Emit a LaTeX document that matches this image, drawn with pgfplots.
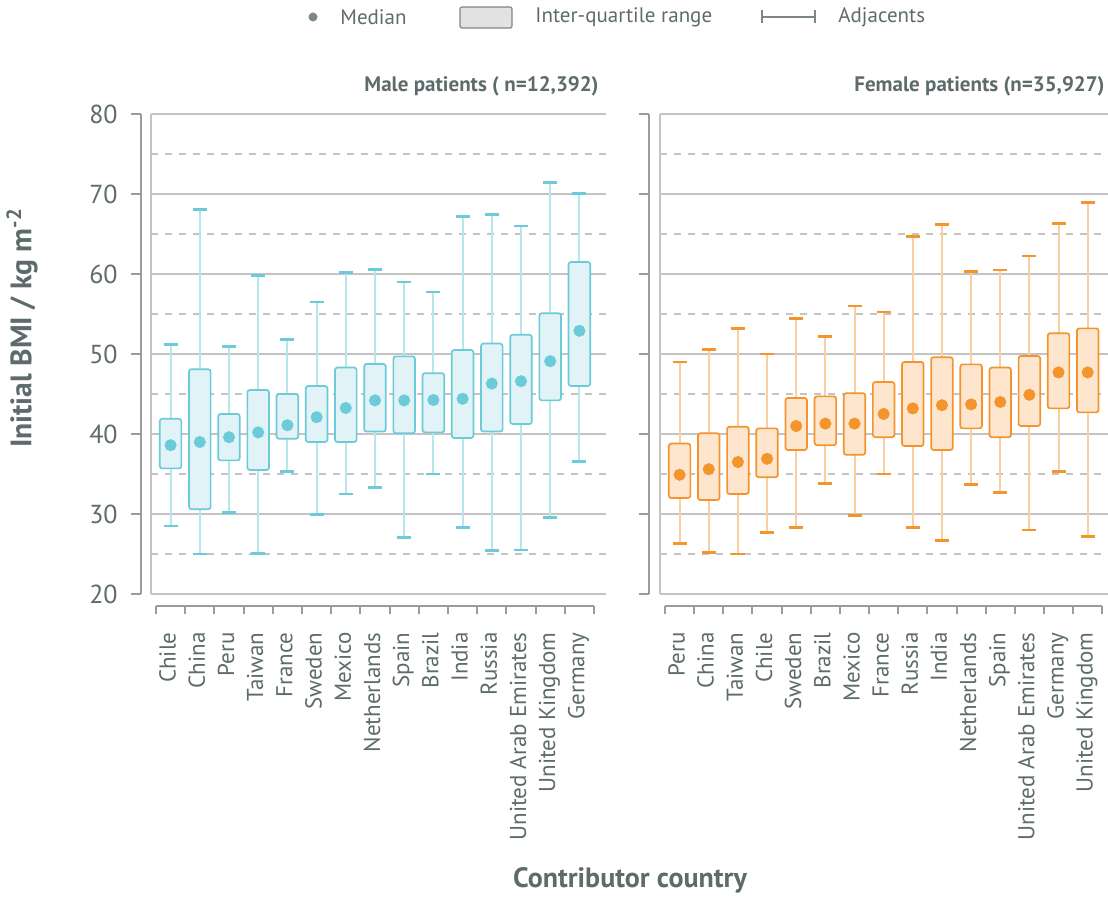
\documentclass[border=0pt]{standalone}
\usepackage{pgfplots}
\pgfplotsset{compat=1.18}
\usepackage{pgfplotstable}
\usepgfplotslibrary{statistics}
\usepackage{fontspec}
\setmainfont{PT Sans}
\definecolor{txt}{RGB}{94,107,107}
\definecolor{axg}{RGB}{155,155,155}
\definecolor{grd}{RGB}{196,196,196}
\definecolor{cyS}{RGB}{108,203,216}
\definecolor{cyF}{RGB}{225,243,246}
\definecolor{cyW}{RGB}{184,230,237}
\definecolor{orS}{RGB}{243,148,44}
\definecolor{orF}{RGB}{253,230,205}
\definecolor{orW}{RGB}{249,206,160}
\definecolor{lgd}{RGB}{125,135,135}
\definecolor{lgdF}{RGB}{226,226,226}
\newcommand\fs[1]{\fontsize{#1}{#1}\selectfont}

% Male: Chile, China, Peru, Taiwan, France, Sweden, Mexico, Netherlands, Spain, Brazil, India, Russia, UAE, UK, Germany
\pgfplotstableread{
lw lq med uq uw
28.5 35.7 38.6 41.9 51.2
25.0 30.6 39.0 48.1 68.1
30.2 36.7 39.6 42.5 50.9
25.1 35.5 40.2 45.5 59.8
35.3 39.4 41.1 45.0 51.8
29.9 39.0 42.1 46.0 56.5
32.5 39.0 43.25 48.3 60.2
33.3 40.3 44.2 48.75 60.6
27.1 40.1 44.2 49.7 59.0
35.0 40.2 44.25 47.6 57.75
28.3 39.5 44.4 50.5 67.2
25.4 40.3 46.3 51.3 67.4
25.5 41.25 46.6 52.4 66.0
29.6 44.2 49.1 55.1 71.4
36.6 46.0 52.9 61.5 70.1
}\male

% Female: Peru, China, Taiwan, Chile, Sweden, Brazil, Mexico, France, Russia, India, Netherlands, Spain, UAE, Germany, UK
\pgfplotstableread{
lw lq med uq uw
26.3 32.0 34.9 38.8 49.0
25.2 31.75 35.6 40.1 50.6
25.0 32.5 36.5 40.9 53.2
27.7 34.6 36.9 40.7 50.0
28.3 38.0 41.0 44.5 54.4
33.8 38.6 41.3 44.7 52.2
29.8 37.4 41.3 45.1 56.0
35.0 39.6 42.5 46.5 55.25
28.3 38.5 43.2 49.0 64.7
26.7 38.0 43.6 49.6 66.2
33.7 40.7 43.7 48.7 60.3
32.7 39.6 44.0 48.3 60.5
28.0 41.0 44.9 49.75 62.25
35.3 43.2 47.7 52.6 66.3
27.2 42.7 47.7 53.2 68.9
}\female

\pgfplotsset{
 frame axis/.style={scale only axis, height=240pt, ymin=20, ymax=80,
   axis lines*=left, axis line style={draw=grd, line width=1pt},
   ytick={20,30,...,80}, minor ytick={25,35,...,75}, ymajorgrids, yminorgrids,
   major grid style={draw=grd, line width=0.9pt},
   minor grid style={draw=grd, line width=0.9pt, dash pattern=on 3.5pt off 3.5pt},
   yticklabels={}, xtick=\empty, major tick length=0pt, minor tick length=0pt},
 bstyle/.style n args={3}{
   boxplot/draw direction=y,
   boxplot/box extend=0.74, boxplot/whisker extend=0.48,
   draw=#1, fill=#2, line width=0.8pt,
   boxplot/draw/box/.code={\draw[draw=#1, fill=#2, line width=0.85pt, rounded corners=1.2pt] (boxplot box cs:\pgfplotsboxplotvalue{lower quartile},0) rectangle (boxplot box cs:\pgfplotsboxplotvalue{upper quartile},1);},
   boxplot/draw/median/.code={\fill[#1] (boxplot cs:\pgfplotsboxplotvalue{median}) circle[radius=2.6pt];},
   boxplot/draw/lower whisker/.code={\draw[#3, line width=1pt] (boxplot cs:\pgfplotsboxplotvalue{lower whisker}) -- (boxplot cs:\pgfplotsboxplotvalue{lower quartile}); \draw[#1, line width=1.4pt] (boxplot whisker cs:\pgfplotsboxplotvalue{lower whisker},0) -- (boxplot whisker cs:\pgfplotsboxplotvalue{lower whisker},1);},
   boxplot/draw/upper whisker/.code={\draw[#3, line width=1pt] (boxplot cs:\pgfplotsboxplotvalue{upper whisker}) -- (boxplot cs:\pgfplotsboxplotvalue{upper quartile}); \draw[#1, line width=1.4pt] (boxplot whisker cs:\pgfplotsboxplotvalue{upper whisker},0) -- (boxplot whisker cs:\pgfplotsboxplotvalue{upper whisker},1);},
 },
 malebox/.style={bstyle={cyS}{cyF}{cyW}},
 femalebox/.style={bstyle={orS}{orF}{orW}},
 yaxis only/.style={anchor=south west, scale only axis, width=1pt, height=240pt, xmin=0, xmax=1, ymin=20, ymax=80,
   axis x line=none, axis y line*=left, axis line style={draw=axg, line width=1pt},
   ytick={20,30,...,80}, tick align=outside, major tick length=5pt, tick style={draw=axg, line width=1pt},
   yticklabel style={font=\fs{13}, text=txt}, yticklabel shift=3pt,
   /pgf/number format/assume math mode=true, xtick=\empty},
 xaxis only/.style={anchor=south west, scale only axis, height=1pt, xmin=-0.5, xmax=14.5, ymin=0, ymax=1,
   axis y line=none, axis x line*=bottom, axis line style={draw=axg, line width=1pt},
   xtick={0,...,14}, major tick length=0pt,
   minor xtick={-0.5,0.5,...,14.5}, minor tick length=4pt, tick align=outside,
   minor tick style={draw=axg, line width=1pt}, ytick=\empty,
   xticklabel style={rotate=90, anchor=mid east, font=\fs{11.5}, text=txt}, xticklabel shift=9.7pt},
}

% draw one prepared box from row #2 of table #1 with style #3
\newcommand\boxrow[3]{%
 \pgfplotstablegetelem{#2}{lw}\of#1\let\vlw\pgfplotsretval
 \pgfplotstablegetelem{#2}{lq}\of#1\let\vlq\pgfplotsretval
 \pgfplotstablegetelem{#2}{med}\of#1\let\vmed\pgfplotsretval
 \pgfplotstablegetelem{#2}{uq}\of#1\let\vuq\pgfplotsretval
 \pgfplotstablegetelem{#2}{uw}\of#1\let\vuw\pgfplotsretval
 \edef\doplot{\noexpand\addplot[#3, boxplot prepared={draw position=#2, lower whisker=\vlw, lower quartile=\vlq, median=\vmed, upper quartile=\vuq, upper whisker=\vuw}] coordinates {};}%
 \doplot
}

\begin{document}
\begin{tikzpicture}
\path[use as bounding box] (0,0) rectangle (554pt,-448.5pt);

% Left panel
\begin{axis}[frame axis, at={(75.5pt,-297pt)}, anchor=south west, width=227.5pt, xmin=-0.671, xmax=14.911]
\pgfplotsinvokeforeach{0,...,14}{\boxrow{\male}{#1}{malebox}}
\end{axis}

% Right panel
\begin{axis}[frame axis, at={(330pt,-297pt)}, anchor=south west, width=224pt, xmin=-0.672, xmax=14.696]
\pgfplotsinvokeforeach{0,...,14}{\boxrow{\female}{#1}{femalebox}}
\end{axis}

% y axes
\begin{axis}[yaxis only, at={(70.35pt,-297pt)}]
\end{axis}
\begin{axis}[yaxis only, at={(324.65pt,-297pt)}, yticklabels={}]
\end{axis}

% x axes
\begin{axis}[xaxis only, at={(78pt,-303pt)}, width=219pt,
  xticklabels={Chile,China,Peru,Taiwan,France,Sweden,Mexico,Netherlands,Spain,Brazil,India,Russia,United Arab Emirates,United Kingdom,Germany}]
\end{axis}
\begin{axis}[xaxis only, at={(332.5pt,-303pt)}, width=218.65pt,
  xticklabels={Peru,China,Taiwan,Chile,Sweden,Brazil,Mexico,France,Russia,India,Netherlands,Spain,United Arab Emirates,Germany,United Kingdom}]
\end{axis}

% titles
\node[anchor=east, font=\bfseries\fs{10.5}, text=txt, inner sep=0] at (299.5pt,-43pt) {Male patients ( n=12,392)};
\node[anchor=east, font=\bfseries\fs{10.5}, text=txt, inner sep=0] at (552.5pt,-43pt) {Female patients (n=35,927)};
\node[rotate=90, font=\bfseries\fs{14.8}, text=txt] at (11pt,-164pt) {Initial BMI / kg m\textsuperscript{-2}};
\node[font=\bfseries\fs{14}, text=txt] at (315pt,-440pt) {Contributor country};

% legend
\fill[lgd] (156.5pt,-8.5pt) circle (2.25pt);
\node[anchor=west, text=txt, font=\fs{10.5}, inner sep=0] at (170pt,-8.5pt) {Median};
\draw[draw=lgd, fill=lgdF, line width=0.6pt, rounded corners=1pt] (230pt,-3.5pt) rectangle (256pt,-14pt);
\node[anchor=west, text=txt, font=\fs{10.5}, inner sep=0] at (267.5pt,-8.5pt) {Inter-quartile range};
\draw[lgd, line width=0.9pt] (381pt,-8.5pt) -- (407.5pt,-8.5pt);
\draw[lgd, line width=0.9pt] (381pt,-5.25pt) -- (381pt,-11.75pt);
\draw[lgd, line width=0.9pt] (407.5pt,-5.25pt) -- (407.5pt,-11.75pt);
\node[anchor=west, text=txt, font=\fs{10.5}, inner sep=0] at (419pt,-8.5pt) {Adjacents};
\end{tikzpicture}
\end{document}
